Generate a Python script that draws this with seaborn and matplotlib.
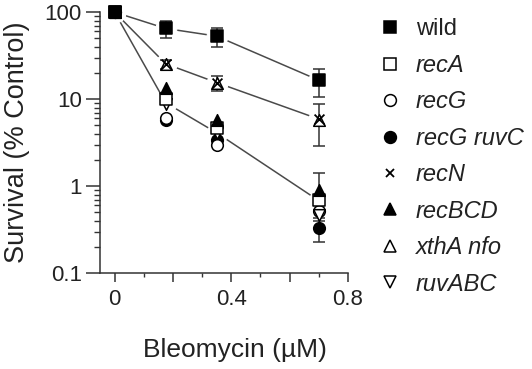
import numpy as np
import pandas as pd
import seaborn as sns
import matplotlib
matplotlib.use("Agg")
import matplotlib.pyplot as plt
from matplotlib.lines import Line2D
from matplotlib.ticker import LogLocator, NullFormatter

sns.set_style("ticks")
plt.rcParams['font.family'] = ['Liberation Sans', 'DejaVu Sans']

# ---------------- data ----------------
dose = [0, 0.175, 0.35, 0.7]
wild = [100, 65, 53, 16.5]
wild_err = [0, 15, 13, 6]
recA = [100, 10, 4.7, 0.7]
recG = [100, 6.0, 3.0, 0.52]
recG_ruvC = [100, 5.8, 3.4, 0.33]
recG_ruvC_err = [0, 0, 0, 0.1]
recN = [100, 25.5, 15.5, 5.9]
recN_err = [0, 3, 3, 3.0]
recBCD = [100, 13.5, 5.8, 0.9]
recBCD_err = [0, 0, 0, 0.5]
xthA_nfo = [100, 25.5, 15.5, 5.8]
ruvABC = [100, 8.7, 4.1, 0.47]
lower_trend = [100, 9.1, 4.1, 0.68]

y_ticks = [0.1, 1, 10, 100]
y_ticklabels = ["0.1", "1", "10", "100"]

series = [
    ("wild", wild, dict(marker="s", facecolor="black")),
    ("recA", recA, dict(marker="s", facecolor="white")),
    ("recG", recG, dict(marker="o", facecolor="white")),
    ("recG ruvC", recG_ruvC, dict(marker="o", facecolor="black")),
    ("recN", recN, dict(marker="x", facecolor="black")),
    ("recBCD", recBCD, dict(marker="^", facecolor="black")),
    ("xthA nfo", xthA_nfo, dict(marker="^", facecolor="white")),
    ("ruvABC", ruvABC, dict(marker="v", facecolor="white")),
]
# drawing order (bottom -> top)
draw_order = ["recG ruvC", "recG", "ruvABC", "recA", "recBCD", "xthA nfo", "recN", "wild"]

fig = plt.figure(figsize=(5.32, 3.69), dpi=100)
ax = fig.add_axes([0.188, 0.26, 0.466, 0.707])

# connecting lines (with white halo markers to leave gaps)
line_color = "#4a4a4a"
for yv in (wild, recN, lower_trend):
    df = pd.DataFrame({"dose": dose, "surv": yv})
    sns.lineplot(data=df, x="dose", y="surv", ax=ax, color=line_color, lw=1.1,
                 marker="o", markersize=15, markerfacecolor="white",
                 markeredgecolor="white", zorder=2)

# error bars
for yv, ev in ((wild, wild_err), (recN, recN_err), (recBCD, recBCD_err),
               (recG_ruvC, recG_ruvC_err)):
    yv = np.array(yv, float); ev = np.array(ev, float)
    m = ev > 0
    lo = np.minimum(ev[m], yv[m] * 0.7)
    ax.errorbar(np.array(dose)[m], yv[m], yerr=[lo, ev[m]], fmt="none",
                ecolor="#333333", elinewidth=1.1, capsize=4, capthick=1.1, zorder=3)

# markers
lookup = {n: (yv, st) for n, yv, st in series}
for k, name in enumerate(draw_order):
    yv, st = lookup[name]
    df = pd.DataFrame({"dose": dose, "surv": yv})
    if st["marker"] == "x":
        sns.scatterplot(data=df, x="dose", y="surv", ax=ax, marker="x",
                        color="black", s=50, linewidth=1.3, zorder=4 + k * 0.01, clip_on=False)
    else:
        sns.scatterplot(data=df, x="dose", y="surv", ax=ax, marker=st["marker"],
                        facecolor=st["facecolor"], edgecolor="black", s=70,
                        linewidth=1.1, zorder=4 + k * 0.01, clip_on=False)

handles = []
for name, yv, st in series:
    if st["marker"] == "x":
        h = Line2D([], [], ls="", marker="x", color="black", markersize=6, mew=1.3)
    else:
        h = Line2D([], [], ls="", marker=st["marker"], markerfacecolor=st["facecolor"],
                   markeredgecolor="black", markersize=8.5, mew=1.1)
    handles.append(h)

ax.set_yscale("log")
ax.set_ylim(0.1, 100)
ax.set_xlim(-0.05, 0.8)
ax.set_yticks(y_ticks)
ax.set_yticklabels(y_ticklabels)
ax.yaxis.set_minor_locator(LogLocator(base=10, subs=np.arange(2, 10)))
ax.yaxis.set_minor_formatter(NullFormatter())
ax.set_xticks([0, 0.2, 0.4, 0.6, 0.8])
ax.set_xticklabels(["0", "", "0.4", "", "0.8"])
ax.set_xticks([0.1, 0.3, 0.5, 0.7], minor=True)
ax.tick_params(axis="x", which="major", labelsize=16, length=6.5, width=1.1, pad=5)
ax.tick_params(axis="y", which="major", labelsize=16, length=10, width=1.1, pad=3)
ax.tick_params(axis="both", which="major", colors="#333333", labelcolor="#222222")
ax.tick_params(axis="x", which="minor", length=3, width=1.0, colors="#333333")
ax.tick_params(axis="y", which="minor", length=4.3, width=1.0, colors="#333333")
for s in ("left", "bottom"):
    ax.spines[s].set_linewidth(1.1)
    ax.spines[s].set_color("#333333")
sns.despine(ax=ax)
ax.set_xlabel("Bleomycin (µM)", fontsize=19, color="#222222")
ax.xaxis.set_label_coords(0.544, -0.249)
ax.set_ylabel("Survival (% Control)", fontsize=19.5, labelpad=10.5, color="#222222")

leg = ax.legend(handles, [s[0] for s in series], loc="upper left",
                bbox_to_anchor=(1.121, 0.976), frameon=False, fontsize=17,
                handlelength=1.0, handletextpad=0.6, labelspacing=0.57,
                borderaxespad=0, borderpad=0)
for i, t in enumerate(leg.get_texts()):
    if i > 0:
        t.set_style("italic")
    t.set_color("#222222")

fig.savefig("out.png", dpi=100)
